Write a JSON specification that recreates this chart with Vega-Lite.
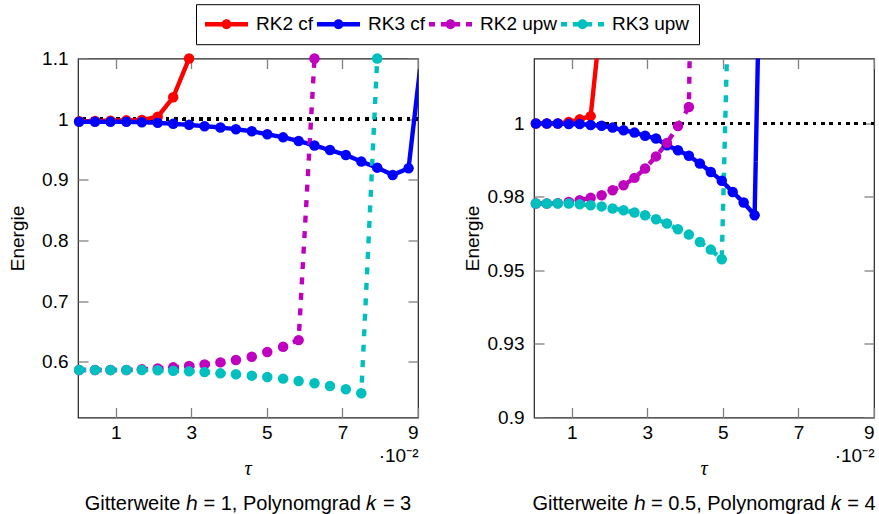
{
  "$schema": "https://vega.github.io/schema/vega-lite/v6.json",
  "autosize": {"type": "pad"},
  "padding": {"left": 7, "top": 3.5, "right": 2, "bottom": 2},
  "background": "#ffffff",
  "config": {
    "font": "Liberation Sans",
    "view": {"stroke": "#222222", "strokeWidth": 1.2},
    "axis": {
      "grid": false, "domain": false,
      "tickColor": "#808080", "tickWidth": 1.3, "tickSize": -10,
      "labelFont": "Liberation Sans", "labelFontSize": 19, "labelColor": "#000000",
      "titleFont": "Liberation Sans", "titleFontSize": 19, "titleFontWeight": "normal", "titleColor": "#000000"
    },
    "title": {"color": "#000000", "subtitleColor": "#000000"}
  },
  "datasets": {
    "left": [
      {"series": "RK2 cf", "tau": 0.03, "E": 0.9965},
      {"series": "RK2 cf", "tau": 0.45, "E": 0.997},
      {"series": "RK2 cf", "tau": 0.86, "E": 0.9975},
      {"series": "RK2 cf", "tau": 1.28, "E": 0.998},
      {"series": "RK2 cf", "tau": 1.69, "E": 0.9985},
      {"series": "RK2 cf", "tau": 2.11, "E": 1.004},
      {"series": "RK2 cf", "tau": 2.52, "E": 1.036},
      {"series": "RK2 cf", "tau": 2.94, "E": 1.1},
      {"series": "RK2 cf", "tau": 3.35, "E": 1.6},
      {"series": "RK3 cf", "tau": 0.03, "E": 0.9956},
      {"series": "RK3 cf", "tau": 0.45, "E": 0.9956},
      {"series": "RK3 cf", "tau": 0.86, "E": 0.9956},
      {"series": "RK3 cf", "tau": 1.28, "E": 0.9956},
      {"series": "RK3 cf", "tau": 1.69, "E": 0.995},
      {"series": "RK3 cf", "tau": 2.11, "E": 0.9939},
      {"series": "RK3 cf", "tau": 2.52, "E": 0.9923},
      {"series": "RK3 cf", "tau": 2.94, "E": 0.9906},
      {"series": "RK3 cf", "tau": 3.35, "E": 0.9884},
      {"series": "RK3 cf", "tau": 3.77, "E": 0.9862},
      {"series": "RK3 cf", "tau": 4.18, "E": 0.9834},
      {"series": "RK3 cf", "tau": 4.6, "E": 0.98},
      {"series": "RK3 cf", "tau": 5.01, "E": 0.975},
      {"series": "RK3 cf", "tau": 5.43, "E": 0.97},
      {"series": "RK3 cf", "tau": 5.84, "E": 0.964},
      {"series": "RK3 cf", "tau": 6.26, "E": 0.9564},
      {"series": "RK3 cf", "tau": 6.67, "E": 0.949},
      {"series": "RK3 cf", "tau": 7.09, "E": 0.941},
      {"series": "RK3 cf", "tau": 7.5, "E": 0.93},
      {"series": "RK3 cf", "tau": 7.92, "E": 0.92},
      {"series": "RK3 cf", "tau": 8.33, "E": 0.908},
      {"series": "RK3 cf", "tau": 8.75, "E": 0.919},
      {"series": "RK3 cf", "tau": 9.16, "E": 1.14},
      {"series": "RK2 upw", "tau": 0.03, "E": 0.5863},
      {"series": "RK2 upw", "tau": 0.45, "E": 0.5863},
      {"series": "RK2 upw", "tau": 0.86, "E": 0.5863},
      {"series": "RK2 upw", "tau": 1.28, "E": 0.5863},
      {"series": "RK2 upw", "tau": 1.69, "E": 0.5874},
      {"series": "RK2 upw", "tau": 2.11, "E": 0.589},
      {"series": "RK2 upw", "tau": 2.52, "E": 0.5907},
      {"series": "RK2 upw", "tau": 2.94, "E": 0.5929},
      {"series": "RK2 upw", "tau": 3.35, "E": 0.5956},
      {"series": "RK2 upw", "tau": 3.77, "E": 0.5989},
      {"series": "RK2 upw", "tau": 4.18, "E": 0.6027},
      {"series": "RK2 upw", "tau": 4.6, "E": 0.6082},
      {"series": "RK2 upw", "tau": 5.01, "E": 0.6159},
      {"series": "RK2 upw", "tau": 5.43, "E": 0.6247},
      {"series": "RK2 upw", "tau": 5.84, "E": 0.6356},
      {"series": "RK2 upw", "tau": 6.26, "E": 1.1},
      {"series": "RK3 upw", "tau": 0.03, "E": 0.5863},
      {"series": "RK3 upw", "tau": 0.45, "E": 0.5863},
      {"series": "RK3 upw", "tau": 0.86, "E": 0.5863},
      {"series": "RK3 upw", "tau": 1.28, "E": 0.5863},
      {"series": "RK3 upw", "tau": 1.69, "E": 0.5863},
      {"series": "RK3 upw", "tau": 2.11, "E": 0.5858},
      {"series": "RK3 upw", "tau": 2.52, "E": 0.5852},
      {"series": "RK3 upw", "tau": 2.94, "E": 0.5841},
      {"series": "RK3 upw", "tau": 3.35, "E": 0.583},
      {"series": "RK3 upw", "tau": 3.77, "E": 0.5808},
      {"series": "RK3 upw", "tau": 4.18, "E": 0.5792},
      {"series": "RK3 upw", "tau": 4.6, "E": 0.577},
      {"series": "RK3 upw", "tau": 5.01, "E": 0.5748},
      {"series": "RK3 upw", "tau": 5.43, "E": 0.5721},
      {"series": "RK3 upw", "tau": 5.84, "E": 0.5682},
      {"series": "RK3 upw", "tau": 6.26, "E": 0.5644},
      {"series": "RK3 upw", "tau": 6.67, "E": 0.56},
      {"series": "RK3 upw", "tau": 7.09, "E": 0.5545},
      {"series": "RK3 upw", "tau": 7.5, "E": 0.548},
      {"series": "RK3 upw", "tau": 7.92, "E": 1.1}
    ],
    "right": [
      {"series": "RK2 cf", "tau": 0.05, "E": 1.0},
      {"series": "RK2 cf", "tau": 0.34, "E": 1.0},
      {"series": "RK2 cf", "tau": 0.63, "E": 1.0},
      {"series": "RK2 cf", "tau": 0.92, "E": 1.0005},
      {"series": "RK2 cf", "tau": 1.21, "E": 1.0014},
      {"series": "RK2 cf", "tau": 1.5, "E": 1.0025},
      {"series": "RK2 cf", "tau": 1.79, "E": 1.038},
      {"series": "RK3 cf", "tau": 0.05, "E": 1.0},
      {"series": "RK3 cf", "tau": 0.34, "E": 1.0},
      {"series": "RK3 cf", "tau": 0.63, "E": 1.0},
      {"series": "RK3 cf", "tau": 0.92, "E": 0.9998},
      {"series": "RK3 cf", "tau": 1.21, "E": 0.9998},
      {"series": "RK3 cf", "tau": 1.5, "E": 0.9995},
      {"series": "RK3 cf", "tau": 1.79, "E": 0.9992},
      {"series": "RK3 cf", "tau": 2.08, "E": 0.9986},
      {"series": "RK3 cf", "tau": 2.37, "E": 0.9977},
      {"series": "RK3 cf", "tau": 2.66, "E": 0.9969},
      {"series": "RK3 cf", "tau": 2.94, "E": 0.9958},
      {"series": "RK3 cf", "tau": 3.23, "E": 0.9949},
      {"series": "RK3 cf", "tau": 3.52, "E": 0.9926},
      {"series": "RK3 cf", "tau": 3.81, "E": 0.9909},
      {"series": "RK3 cf", "tau": 4.1, "E": 0.989},
      {"series": "RK3 cf", "tau": 4.39, "E": 0.9864},
      {"series": "RK3 cf", "tau": 4.68, "E": 0.9835},
      {"series": "RK3 cf", "tau": 4.97, "E": 0.9805},
      {"series": "RK3 cf", "tau": 5.26, "E": 0.9767},
      {"series": "RK3 cf", "tau": 5.55, "E": 0.9731},
      {"series": "RK3 cf", "tau": 5.84, "E": 0.9688},
      {"series": "RK3 cf", "tau": 6.13, "E": 1.15},
      {"series": "RK2 upw", "tau": 0.05, "E": 0.9728},
      {"series": "RK2 upw", "tau": 0.34, "E": 0.9728},
      {"series": "RK2 upw", "tau": 0.63, "E": 0.9729},
      {"series": "RK2 upw", "tau": 0.92, "E": 0.9733},
      {"series": "RK2 upw", "tau": 1.21, "E": 0.9739},
      {"series": "RK2 upw", "tau": 1.5, "E": 0.9747},
      {"series": "RK2 upw", "tau": 1.79, "E": 0.9756},
      {"series": "RK2 upw", "tau": 2.08, "E": 0.9773},
      {"series": "RK2 upw", "tau": 2.37, "E": 0.979},
      {"series": "RK2 upw", "tau": 2.66, "E": 0.9815},
      {"series": "RK2 upw", "tau": 2.94, "E": 0.9847},
      {"series": "RK2 upw", "tau": 3.23, "E": 0.9888},
      {"series": "RK2 upw", "tau": 3.52, "E": 0.9934},
      {"series": "RK2 upw", "tau": 3.81, "E": 0.9991},
      {"series": "RK2 upw", "tau": 4.1, "E": 1.0056},
      {"series": "RK2 upw", "tau": 4.39, "E": 1.25},
      {"series": "RK3 upw", "tau": 0.05, "E": 0.9728},
      {"series": "RK3 upw", "tau": 0.34, "E": 0.9728},
      {"series": "RK3 upw", "tau": 0.63, "E": 0.9728},
      {"series": "RK3 upw", "tau": 0.92, "E": 0.9728},
      {"series": "RK3 upw", "tau": 1.21, "E": 0.9725},
      {"series": "RK3 upw", "tau": 1.5, "E": 0.9722},
      {"series": "RK3 upw", "tau": 1.79, "E": 0.9718},
      {"series": "RK3 upw", "tau": 2.08, "E": 0.9711},
      {"series": "RK3 upw", "tau": 2.37, "E": 0.9705},
      {"series": "RK3 upw", "tau": 2.66, "E": 0.9697},
      {"series": "RK3 upw", "tau": 2.94, "E": 0.9688},
      {"series": "RK3 upw", "tau": 3.23, "E": 0.9674},
      {"series": "RK3 upw", "tau": 3.52, "E": 0.966},
      {"series": "RK3 upw", "tau": 3.81, "E": 0.964},
      {"series": "RK3 upw", "tau": 4.1, "E": 0.9622},
      {"series": "RK3 upw", "tau": 4.39, "E": 0.9597},
      {"series": "RK3 upw", "tau": 4.68, "E": 0.9571},
      {"series": "RK3 upw", "tau": 4.97, "E": 0.9538},
      {"series": "RK3 upw", "tau": 5.26, "E": 1.1}
    ]
  },
  "spacing": 42,
  "hconcat": [
    {
      "width": 340, "height": 359,
      "data": {"name": "left"},
      "title": {
        "text": "τ", "orient": "bottom", "anchor": "middle",
        "font": "Liberation Serif", "fontStyle": "italic", "fontWeight": "normal", "fontSize": 20,
        "offset": -7,
        "subtitle": "Gitterweite ℎ = 1, Polynomgrad 𝑘 = 3",
        "subtitleFont": "Liberation Sans", "subtitleFontSize": 20, "subtitlePadding": 15
      },
      "layer": [
        {
          "mark": {"type": "rule", "color": "#000000", "strokeWidth": 2.7, "strokeDash": [2.7, 5.6], "clip": true},
          "encoding": {"y": {"datum": 1, "type": "quantitative", "axis": null}}
        },
        {
          "mark": {"type": "line", "strokeWidth": 4.4, "clip": true},
          "encoding": {
            "x": {"field": "tau", "type": "quantitative",
                  "scale": {"domain": [0, 9], "nice": false, "zero": false},
                  "axis": {"orient": "bottom", "values": [1, 3, 5, 7, 9], "labelPadding": 16,
                           "title": "·10⁻²", "titleAnchor": "end", "titlePadding": 4}},
            "y": {"field": "E", "type": "quantitative",
                  "scale": {"domain": [0.508, 1.1], "nice": false, "zero": false},
                  "axis": {"orient": "left", "values": [0.6, 0.7, 0.8, 0.9, 1, 1.1], "format": "~g",
                           "labelPadding": 20, "title": "Energie", "titlePadding": 14}},
            "color": {"field": "series", "type": "nominal",
                      "scale": {"domain": ["RK2 cf", "RK3 cf", "RK2 upw", "RK3 upw"], "range": ["#ff0000", "#0000ff", "#bf00bf", "#00bfbf"]},
                      "legend": {
                        "title": null, "orient": "none", "legendX": 118, "legendY": -54.3,
                        "direction": "horizontal", "columns": 4,
                        "symbolSize": 1849, "clipHeight": 22,
                        "labelFont": "Liberation Sans", "labelFontSize": 19, "labelColor": "#000000", "labelOffset": 8, "labelLimit": 0,
                        "columnPadding": 3, "padding": 9, "strokeColor": "#000000", "fillColor": "#ffffff",
                        "encode": {"symbols": {"update": {
                          "shape": {"signal": "indexof(datum.value, 'upw') >= 0 ? 'M-1,-0.105L-0.72,-0.105L-0.72,0.105L-1,0.105ZM-0.45,-0.105L-0.17,-0.105L-0.17,0.105L-0.45,0.105ZM0.17,-0.105L0.45,-0.105L0.45,0.105L0.17,0.105ZM0.72,-0.105L1,-0.105L1,0.105L0.72,0.105ZM0.23,0A0.23,0.23,0,1,1,-0.23,0A0.23,0.23,0,1,1,0.23,0Z' : 'M-1,-0.105L1,-0.105L1,0.105L-1,0.105ZM0.23,0A0.23,0.23,0,1,1,-0.23,0A0.23,0.23,0,1,1,0.23,0Z'"},
                          "fill": {"scale": "color", "field": "value"},
                          "stroke": {"value": "transparent"},
                          "strokeWidth": {"value": 0},
                          "opacity": {"value": 1}
                        }}}
                      }},
            "strokeDash": {"field": "series", "type": "nominal",
                           "scale": {"domain": ["RK2 cf", "RK3 cf", "RK2 upw", "RK3 upw"], "range": [[1, 0], [1, 0], [7, 8.5], [7, 8.5]]}}
          }
        },
        {
          "transform": [{"filter": "datum.E <= 1.1001"}],
          "mark": {"type": "point", "filled": true, "size": 110, "opacity": 1, "clip": false},
          "encoding": {
            "x": {"field": "tau", "type": "quantitative",
                  "scale": {"domain": [0, 9], "nice": false, "zero": false},
                  "axis": {"orient": "top", "values": [1, 3, 5, 7, 9], "labels": false, "title": null}},
            "y": {"field": "E", "type": "quantitative",
                  "scale": {"domain": [0.508, 1.1], "nice": false, "zero": false},
                  "axis": {"orient": "right", "values": [0.6, 0.7, 0.8, 0.9, 1, 1.1], "labels": false, "title": null}},
            "color": {"field": "series", "type": "nominal"}
          }
        }
      ],
      "resolve": {"axis": {"x": "independent", "y": "independent"}}
    },
    {
      "width": 340, "height": 359,
      "data": {"name": "right"},
      "title": {
        "text": "τ", "orient": "bottom", "anchor": "middle",
        "font": "Liberation Serif", "fontStyle": "italic", "fontWeight": "normal", "fontSize": 20,
        "offset": -7,
        "subtitle": "Gitterweite ℎ = 0.5, Polynomgrad 𝑘 = 4",
        "subtitleFont": "Liberation Sans", "subtitleFontSize": 20, "subtitlePadding": 15
      },
      "layer": [
        {
          "mark": {"type": "rule", "color": "#000000", "strokeWidth": 2.7, "strokeDash": [2.7, 5.6], "clip": true},
          "encoding": {"y": {"datum": 1, "type": "quantitative", "axis": null}}
        },
        {
          "mark": {"type": "line", "strokeWidth": 4.4, "clip": true},
          "encoding": {
            "x": {"field": "tau", "type": "quantitative",
                  "scale": {"domain": [0, 9], "nice": false, "zero": false},
                  "axis": {"orient": "bottom", "values": [1, 3, 5, 7, 9], "labelPadding": 16,
                           "title": "·10⁻²", "titleAnchor": "end", "titlePadding": 4}},
            "y": {"field": "E", "type": "quantitative",
                  "scale": {"domain": [0.9, 1.0221], "nice": false, "zero": false},
                  "axis": {"orient": "left", "values": [0.9, 0.925, 0.95, 0.975, 1],
                           "labelExpr": "format(datum.value + 0.000001, '.2~f')",
                           "labelPadding": 20, "title": "Energie", "titlePadding": 5}},
            "color": {"field": "series", "type": "nominal",
                      "scale": {"domain": ["RK2 cf", "RK3 cf", "RK2 upw", "RK3 upw"], "range": ["#ff0000", "#0000ff", "#bf00bf", "#00bfbf"]}},
            "strokeDash": {"field": "series", "type": "nominal",
                           "scale": {"domain": ["RK2 cf", "RK3 cf", "RK2 upw", "RK3 upw"], "range": [[1, 0], [1, 0], [7, 8.5], [7, 8.5]]}}
          }
        },
        {
          "transform": [{"filter": "datum.E <= 1.0222"}],
          "mark": {"type": "point", "filled": true, "size": 110, "opacity": 1, "clip": false},
          "encoding": {
            "x": {"field": "tau", "type": "quantitative",
                  "scale": {"domain": [0, 9], "nice": false, "zero": false},
                  "axis": {"orient": "top", "values": [1, 3, 5, 7, 9], "labels": false, "title": null}},
            "y": {"field": "E", "type": "quantitative",
                  "scale": {"domain": [0.9, 1.0221], "nice": false, "zero": false},
                  "axis": {"orient": "right", "values": [0.9, 0.925, 0.95, 0.975, 1], "labels": false, "title": null}},
            "color": {"field": "series", "type": "nominal"}
          }
        }
      ],
      "resolve": {"axis": {"x": "independent", "y": "independent"}}
    }
  ]
}
